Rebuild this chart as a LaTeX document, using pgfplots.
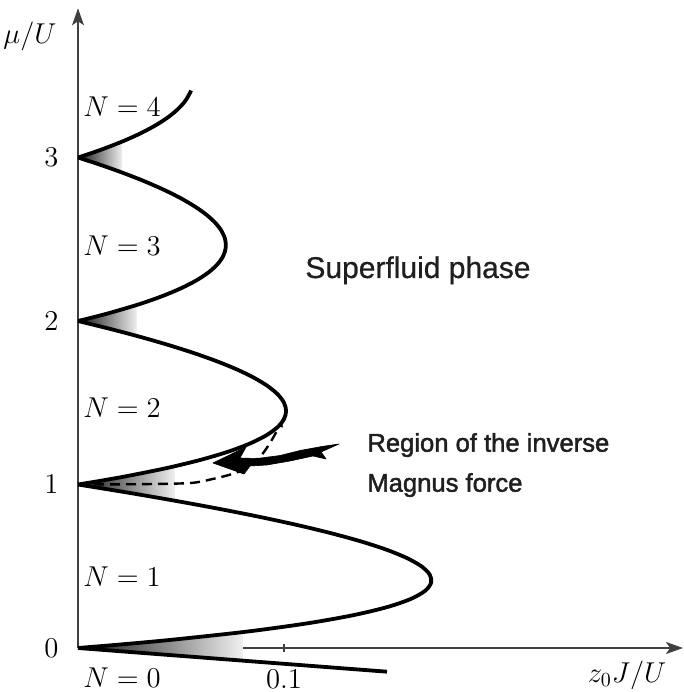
\documentclass[border=0pt]{standalone}
\usepackage{pgfplots}
\pgfplotsset{compat=1.18}
\usepackage{fontspec}
\usetikzlibrary{arrows.meta}
\newfontfamily\helv[FakeBold=0.7]{Liberation Sans}
\newfontfamily\helvmed[FakeBold=1.8]{Liberation Sans}

\begin{document}
\begin{tikzpicture}
\begin{axis}[
    x=1030bp, y=81.75bp,
    xmin=0, xmax=0.2937, ymin=0, ymax=3.9125,
    axis lines=left,
    axis line style={draw=black!75, line width=0.6bp,
      -{Stealth[length=8.5bp,width=6bp,inset=2bp]}},
    xtick={0.1}, ytick={0,1,2,3},
    tick label style={font=\fontsize{14bp}{16bp}\selectfont},
    xtick style={draw=black!75, line width=0.6bp},
    ytick style={draw=none},
    major tick length=4bp, tick align=center,
    xticklabel style={yshift=-5.4bp},
    yticklabel style={xshift=-4.3bp},
    clip=false,
  ]

  % gray wedges at the cusps
  \addplot[draw=none, left color=black!92, right color=black!6] coordinates {
      (0,0) (0.019216,0.02) (0.045238,0.05) (0.064535,0.075) (0.08,0.0972) (0.08,-0.0773)
    } -- cycle;
  \addplot[draw=none, left color=black!92, right color=black!6] coordinates {
      (0,1) (0.023171,1.05) (0.042857,1.1) (0.047,1.1117) (0.047,0.9008) (0.024359,0.95)
    } -- cycle;
  \addplot[draw=none, left color=black!92, right color=black!6] coordinates {
      (0,2) (0.015574,2.05) (0.0286,2.0983) (0.0286,1.9084) (0.016102,1.95)
    } -- cycle;
  \addplot[draw=none, left color=black!92, right color=black!6] coordinates {
      (0,3) (0.011728,3.05) (0.0214,3.0971) (0.0214,2.9079) (0.012025,2.95)
    } -- cycle;

  % Mott lobes
  \addplot[line width=1.9bp, smooth] coordinates {
      (0,0) (0.019216,0.02) (0.045238,0.05) (0.081818,0.1) (0.110870,0.15)
      (0.133333,0.2) (0.15,0.25) (0.161538,0.3) (0.168519,0.35) (0.171429,0.4)
      (0.170690,0.45) (0.166667,0.5) (0.159677,0.55) (0.15,0.6) (0.137879,0.65)
      (0.123529,0.7) (0.107143,0.75) (0.088889,0.8) (0.068919,0.85) (0.047368,0.9)
      (0.024359,0.95) (0,1)
    };
  \addplot[line width=1.9bp, smooth] coordinates {
      (0,1) (0.009703,1.02) (0.023171,1.05) (0.042857,1.1) (0.059302,1.15)
      (0.072727,1.2) (0.083333,1.25) (0.091304,1.3) (0.096809,1.35) (0.1,1.4)
      (0.101020,1.45) (0.1,1.5) (0.097059,1.55) (0.092308,1.6) (0.085849,1.65)
      (0.077778,1.7) (0.068182,1.75) (0.057143,1.8) (0.044737,1.85) (0.031034,1.9)
      (0.016102,1.95) (0,2)
    };
  \addplot[line width=1.9bp, smooth] coordinates {
      (0,2) (0.006490,2.02) (0.015574,2.05) (0.029032,2.1) (0.040476,2.15)
      (0.05,2.2) (0.057692,2.25) (0.063636,2.3) (0.067910,2.35) (0.070588,2.4)
      (0.071739,2.45) (0.071429,2.5) (0.069718,2.55) (0.066667,2.6) (0.062329,2.65)
      (0.056757,2.7) (0.05,2.75) (0.042105,2.8) (0.033117,2.85) (0.023077,2.9)
      (0.012025,2.95) (0,3)
    };
  \addplot[line width=1.9bp, smooth] coordinates {
      (0,3) (0.004876,3.02) (0.011728,3.05) (0.021951,3.1) (0.030723,3.15)
      (0.038095,3.2) (0.044118,3.25) (0.048837,3.3) (0.052299,3.35) (0.054545,3.4)
      (0.054853,3.41)
    };
  \addplot[line width=1.9bp] coordinates {(0,0) (0.15,-0.145)};

  % region of the inverse Magnus force
  \addplot[line width=1.2bp, dash pattern=on 5bp off 3bp, smooth,
      -{Latex[length=3.5bp,width=3bp]}] coordinates {
      (0,1) (0.03,1.002) (0.0544,1.009) (0.0655,1.034) (0.0748,1.064)
      (0.0820,1.101) (0.0883,1.168) (0.0932,1.254) (0.0981,1.364) (0.0992,1.394)
    };
  \addplot[fill=black, draw=black, line width=0.3bp, line join=round] coordinates {
      (0.0655,1.1315) (0.0816,1.2294) (0.0786,1.1621) (0.0869,1.1590) (0.0981,1.1773)
      (0.1078,1.2079) (0.1184,1.2324) (0.1267,1.2477) (0.1180,1.1988) (0.1204,1.1560)
      (0.1141,1.1743) (0.1029,1.1437) (0.0917,1.1193) (0.0835,1.1131) (0.0806,1.0642)
    } -- cycle;

  \begin{scope}[every node/.style={inner sep=0pt, font=\fontsize{14.5bp}{17bp}\selectfont}]
    \node[anchor=west] at (axis cs:0.0024,3.309) {$N=4$};
    \node[anchor=west] at (axis cs:0.0024,2.459) {$N=3$};
    \node[anchor=west] at (axis cs:0.0024,1.468) {$N=2$};
    \node[anchor=west] at (axis cs:0.0024,0.434) {$N=1$};
    \node[anchor=west] at (axis cs:0.0024,-0.183) {$N=0$};
    \node at (axis cs:-0.0233,3.743) {$\mu/U$};
    \node at (axis cs:0.2665,-0.165) {$z_0J/U$};
  \end{scope}

  \node[anchor=base west, inner sep=0pt, text=black!88,
    font=\helv\fontsize{15bp}{18bp}\selectfont] at (axis cs:0.1102,2.263) {Superfluid phase};
  \node[anchor=base west, inner sep=0pt, text=black!88,
    font=\helvmed\fontsize{12.8bp}{15bp}\selectfont] at (axis cs:0.1403,1.2006) {Region of the inverse};
  \node[anchor=base west, inner sep=0pt, text=black!88,
    font=\helvmed\fontsize{12.8bp}{15bp}\selectfont] at (axis cs:0.1403,0.956) {Magnus force};

  \coordinate (bl) at (axis cs:-0.037864,-0.269113);
  \coordinate (tr) at (axis cs:0.294175,3.963303);
\end{axis}
\pgfresetboundingbox
\path[use as bounding box] (bl) rectangle (tr);
\end{tikzpicture}
\end{document}
